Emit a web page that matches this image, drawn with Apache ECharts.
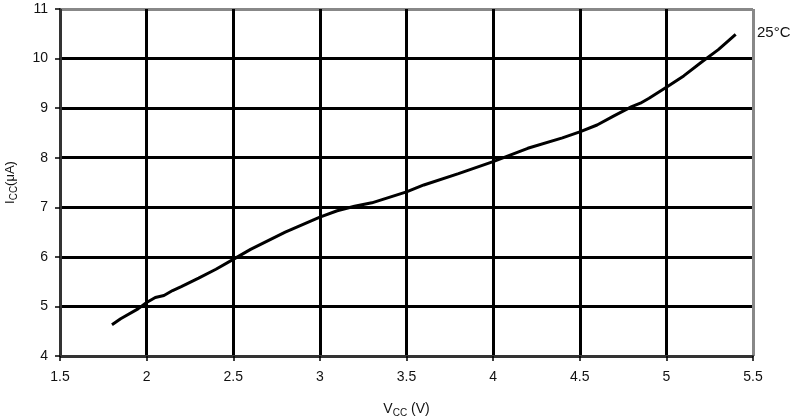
<!DOCTYPE html>
<html><head><meta charset="utf-8">
<script src="https://cdn.jsdelivr.net/npm/echarts@6/dist/echarts.min.js"></script>
<style>html,body{margin:0;padding:0;background:#fff}#c{width:801px;height:419px}</style>
</head><body><div id="c"></div>
<script>
const vcc = [1.8,1.85,1.95,2.0,2.05,2.1,2.15,2.2,2.3,2.4,2.5,2.6,2.8,3.0,3.1,3.2,3.3,3.4,3.5,3.6,3.8,4.0,4.2,4.4,4.5,4.6,4.7,4.8,4.85,4.9,5.0,5.1,5.2,5.3,5.4];
const icc = [4.63,4.75,4.95,5.08,5.18,5.22,5.32,5.40,5.57,5.75,5.95,6.15,6.5,6.8,6.93,7.02,7.09,7.2,7.31,7.45,7.68,7.92,8.19,8.4,8.52,8.66,8.85,9.03,9.1,9.2,9.42,9.65,9.92,10.18,10.49];
const seriesLabel = '25°C';
const xTicks = [1.5,2,2.5,3,3.5,4,4.5,5,5.5];
const yTicks = [4,5,6,7,8,9,10,11];

const chart = echarts.init(document.getElementById('c'));
const font = 'Liberation Sans, Arial, sans-serif';
const xColors = xTicks.map((t,i)=> i===0 ? '#333' : (i===xTicks.length-1 ? '#888' : '#000'));
const yColors = yTicks.map((t,i)=> i===0 ? '#333' : (i===yTicks.length-1 ? '#888' : '#000'));
chart.setOption({
  animation:false,
  grid:{left:60,right:48,top:9,bottom:63,containLabel:false,outerBoundsMode:'none'},
  xAxis:{type:'value',min:xTicks[0],max:xTicks[xTicks.length-1],interval:0.5,
    axisLine:{show:true,onZero:false,lineStyle:{color:'#333',width:2}},
    axisTick:{show:true,length:5,lineStyle:{color:'#000',width:1.5}},
    axisLabel:{margin:14,color:'#111',fontSize:14,fontFamily:font,formatter:v=>String(v)},
    splitLine:{show:true,lineStyle:{color:xColors,width:3}},
    name:'{m|V}{s|CC}{m| (V)}',nameLocation:'middle',nameGap:44,
    nameTextStyle:{rich:{m:{fontSize:14,fontFamily:font,color:'#111'},s:{fontSize:10,fontFamily:font,color:'#111',verticalAlign:'bottom',padding:[8,0,0,0]}}}
  },
  yAxis:{type:'value',min:yTicks[0],max:yTicks[yTicks.length-1],interval:1,
    axisLine:{show:true,onZero:false,lineStyle:{color:'#333',width:2}},
    axisTick:{show:true,length:5,lineStyle:{color:'#000',width:1.5}},
    axisLabel:{margin:12,color:'#111',fontSize:14,fontFamily:font},
    splitLine:{show:true,lineStyle:{color:yColors,width:3}},
    name:'{m|I}{s|CC}{m|(μA)}',nameLocation:'middle',nameGap:41,nameRotate:90,
    nameTextStyle:{rich:{m:{fontSize:13,fontFamily:font,color:'#111'},s:{fontSize:10,fontFamily:font,color:'#111',verticalAlign:'bottom',padding:[7,0,0,0]}}}
  },
  graphic:[{type:'text',left:757,top:25,style:{text:seriesLabel,font:'15px '+font,fill:'#111'}}],
  series:[{type:'line',data:vcc.map((v,i)=>[v,icc[i]]),showSymbol:false,symbol:'none',
    lineStyle:{color:'#000',width:3},z:5}]
});
</script></body></html>
